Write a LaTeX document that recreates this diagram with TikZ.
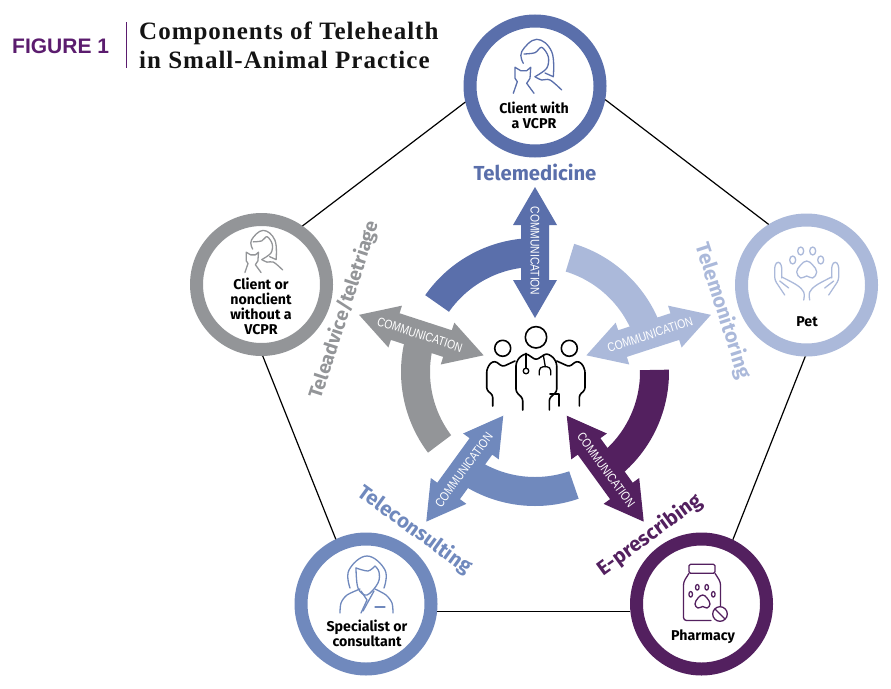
\documentclass[tikz,border=0pt]{standalone}
\usepackage{fontspec}
\setmainfont{Liberation Serif}
\newfontfamily\titlefont[LetterSpace=4]{Liberation Serif}
\newfontfamily\headfont{Liberation Sans}
\newfontfamily\labelfont{Fira Sans}
\newfontfamily\commfont[FakeStretch=0.82]{Liberation Sans}

\definecolor{medblue}{HTML}{5A6FAB}
\definecolor{monblue}{HTML}{ABB9DA}
\definecolor{advgray}{HTML}{939598}
\definecolor{conblue}{HTML}{7089BD}
\definecolor{rxpurple}{HTML}{53205F}
\definecolor{figpurple}{HTML}{5B1C6E}

\tikzset{
  ringnode/.style={circle, draw=#1, line width=13pt, fill=white, minimum size=130pt, inner sep=0pt},
  ringtext/.style={align=center, text=black, font=\labelfont\bfseries\fontsize{14.2}{15}\selectfont},
  spokelabel/.style={font=\labelfont\bfseries\fontsize{20.3}{21}\selectfont, text=#1},
  commlabel/.style={font=\commfont\fontsize{12.6}{12.6}\selectfont, text=white, inner sep=0pt},
  titletext/.style={anchor=base west, inner sep=0pt, font=\titlefont\bfseries\fontsize{25}{25}\selectfont, text=black!92},
  iconline/.style={line width=1.3pt, line cap=round, line join=round},
  teamline/.style={line width=1.6pt, line cap=round, line join=round},
  edge/.style={line width=1.2pt, black},
  pics/clientcat/.style={code={
    \draw[iconline] plot[smooth, tension=.7] coordinates {(-13.2,-3.7) (-14.8,-15.3) (0.2,-27.7) (15.2,-15.3) (16.8,9.7)} -- (8.5,6);
    \draw[iconline] plot[smooth, tension=.55] coordinates {(-12.5,-13) (-1.5,-14.3) (5.2,-19.7) (11.8,-10.3) (10.2,1.3) (-1.5,9.7)};
    \draw[iconline] (-23.2,26.3) -- (-19.2,14.7) -- (-21.5,11.3) -- (-21.5,.3) -- (-15.8,3.7) -- (-9.8,3.7) -- (-5.8,.3) -- (-6.5,11.3) -- (-9.8,16.3) -- (-2.5,26.3);
    \draw[iconline] plot[smooth, tension=.6] coordinates {(-1.5,9.7) (5.2,13) (13.5,13) (25.2,23)};
  }}
}

\begin{document}
\begin{tikzpicture}[x=1pt, y=-1pt]
\useasboundingbox (0,0) rectangle (891,688);

% Heading
\node[anchor=base west, inner sep=0pt, font=\headfont\bfseries\fontsize{21}{21}\selectfont, text=figpurple] (figlabel) at (12,53) {FIGURE 1};
\draw[figpurple, line width=1pt] (126,22) -- (126,68);
\node[titletext] (titleA) at (139,39) {Components of Telehealth};
\node[titletext] (titleB) at (139,68) {in Small-Animal Practice};

% Rings
\node[ringnode=medblue] (client) at (535,86) {};
\node[ringnode=advgray] (triage) at (261.5,284.5) {};
\node[ringnode=conblue] (specialist) at (366,604) {};
\node[ringnode=rxpurple] (pharmacy) at (701.5,604) {};
\node[ringnode=monblue] (pet) at (806.5,285) {};

% Pentagon sides
\draw[edge] (client.193.6) -- (triage.55);
\draw[edge] (triage.271) -- (specialist.115);
\draw[edge] (specialist.-6.4) -- (pharmacy.186.4);
\draw[edge] (pharmacy.64) -- (pet.269);
\draw[edge] (pet.122.7) -- (client.-11.8);

% Arcs and double arrows
\foreach \ang/\col/\txt in {90/medblue/-90, 18/monblue/18, 162/advgray/-18, 234/conblue/54, 306/rxpurple/-54} {
  \begin{scope}[shift={(535,372)}, rotate=\ang]
    \fill[\col] (0:105pt) arc[start angle=0, end angle=55, radius=105pt] -- (55:134pt) arc[start angle=55, end angle=0, radius=134pt] -- cycle;
    \fill[\col] (54,0) -- (92,22) -- (92,14) -- (147,14) -- (147,22) -- (185,0) -- (147,-22) -- (147,-14) -- (92,-14) -- (92,-22) -- cycle;
    \node[commlabel, rotate=\txt] (comm\ang) at (121,0) {COMMUNICATION};
  \end{scope}
}

% Spoke labels
\node[spokelabel=medblue] (telemed) at (535,172) {Telemedicine};
\node[spokelabel=monblue, rotate=-72] (telemon) at (723,311) {Telemonitoring};
\node[spokelabel=advgray, rotate=72, font=\labelfont\bfseries\fontsize{19}{21}\selectfont] (teleadv) at (344,310) {Teleadvice/teletriage};
\node[spokelabel=conblue, rotate=-36] (telecon) at (415,530) {Teleconsulting};
\node[spokelabel=rxpurple, rotate=36] (eprescr) at (650,535) {E-prescribing};

% Ring texts
\node[ringtext] (clienttext) at (534,115) {Client with\\a VCPR};
\node[ringtext] (triagetext) at (261,306) {Client or\\nonclient\\without a\\VCPR};
\node[ringtext] (specialisttext) at (367,633) {Specialist or\\consultant};
\node[ringtext] (pharmacytext) at (703,637) {Pharmacy};
\node[ringtext] (pettext) at (807,322) {Pet};

% Client icons
\pic[color=medblue] (iconA) at (536.5,67) {clientcat};
\pic[color=advgray, scale=.78] (iconB) at (263,252) {clientcat};

% Specialist icon
\begin{scope}[conblue]
\draw[iconline] plot[smooth, tension=.7] coordinates {(350,588) (349,570) (367,556) (385,570) (384,588)};
\draw[iconline] plot[smooth, tension=.5] coordinates {(356,568) (368,571) (375,566)};
\draw[iconline] plot[smooth, tension=.6] coordinates {(356,568) (358,588) (367,595) (378,583) (379,572) (375,566)};
\draw[iconline] plot[smooth, tension=.5] coordinates {(340,613) (341,603) (347,595) (360,589)};
\draw[iconline] plot[smooth, tension=.5] coordinates {(393,613) (392,603) (386,595) (375,589)};
\draw[iconline] (361,591) -- (367,600) -- (361,613);
\draw[iconline] (374,591) -- (363,611);
\draw[iconline] (375,607) -- (385,607);
\end{scope}

% Pet icon
\begin{scope}[monblue, shift={(806.7,270)}]
\foreach \tx/\ty in {-14/-10, -6/-19, 6/-19, 14/-10} {
  \draw[iconline] (\tx,\ty) ellipse[x radius=3pt, y radius=4pt];
}
\draw[iconline] plot[smooth cycle, tension=.7] coordinates {(0,-9) (6,-5) (10,2) (6,8) (0,6) (-6,8) (-10,2) (-6,-5)};
\foreach \side in {1,-1} {
  \begin{scope}[xscale=\side]
  \draw[iconline, rounded corners=3pt] (-25,8) -- (-25,-5) -- (-28.5,-9) -- (-32,-5) -- (-32,10) -- (-22,25);
  \draw[iconline] plot[smooth, tension=.6] coordinates {(-25,7) (-10,15) (-3,22) (-3,30)};
  \draw[iconline] (-27,11) -- (-18,18);
  \end{scope}
}
\end{scope}

% Pharmacy icon
\begin{scope}[rxpurple]
\draw[iconline, rounded corners=1.5pt] (689,573.3) -- (689,564.3) -- (715,564.3) -- (715,573.3) -- cycle;
\draw[iconline, rounded corners=3pt] (689,573.3) -- (683.5,582) -- (683.5,620.5) -- (711,620.5);
\draw[iconline, rounded corners=3pt] (715,573.3) -- (720.5,582) -- (720.5,606);
\foreach \tx/\ty in {697.3/587.3, 706.7/587.3, 690.7/594.3, 713.3/594.3} {
  \draw[iconline] (\tx,\ty) ellipse[x radius=1.8pt, y radius=2.8pt];
}
\draw[iconline] plot[smooth cycle, tension=.7] coordinates {(702.7,595) (707,598) (710,604) (707,608) (702.7,606.5) (698,608) (695,604) (698,598)};
\draw[iconline] (720,614) circle[radius=7.3pt];
\draw[iconline] (715,609) -- (725,619);
\end{scope}

% Care team
\begin{scope}[black]
\draw[teamline] (536,337.3) circle[radius=10.7pt];
\draw[teamline] (502.7,348.3) circle[radius=8pt];
\draw[teamline] (569.3,348.3) circle[radius=8pt];
\draw[teamline, rounded corners=2.5pt] (522.7,410) -- (522.7,398.3) -- (516,391.7) -- (516,363.3) -- (519.3,357.3) -- (526,353.3) -- (536,360) -- (546.7,353.3) -- (553.3,357.3) -- (556.7,363.3) -- (556.7,391.7) -- (549.3,398.3) -- (549.3,410);
\draw[teamline, rounded corners=2.5pt] (492.7,406) -- (492.7,395) -- (486.7,390) -- (486.7,370) -- (490,363.3) -- (495,361) -- (502.7,366.7) -- (515,361);
\draw[teamline, rounded corners=2.5pt] (579.3,406) -- (579.3,395) -- (585,390) -- (585,370) -- (581.7,363.3) -- (576.7,361) -- (569.3,366.7) -- (556.7,361);
\draw[teamline] (559,406) -- (559,394) -- (550,394);
\draw[iconline] (526,353.3) -- (526,368.2);
\draw[iconline] (526,371) circle[radius=2.8pt];
\draw[iconline] (543.3,355) -- (545.3,366.7);
\draw[iconline, rounded corners=4pt] (539.3,375) -- (539.3,366.7) -- (550.7,366.7) -- (550.7,375);
\end{scope}

\end{tikzpicture}
\end{document}
